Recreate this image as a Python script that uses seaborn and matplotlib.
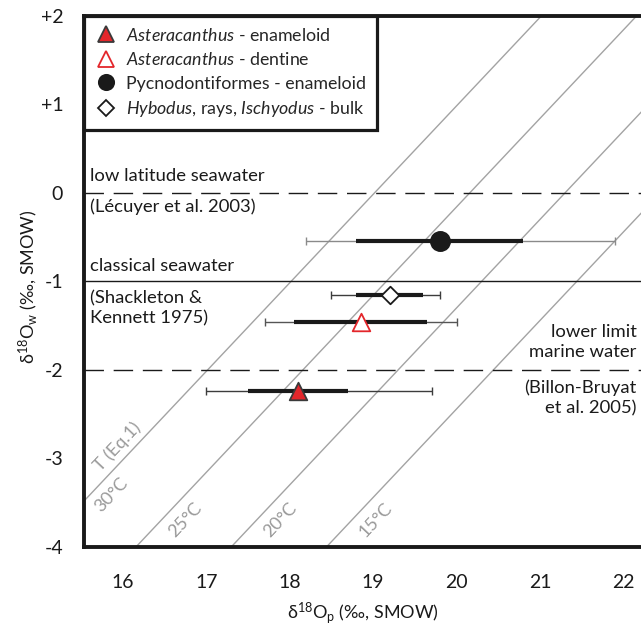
import matplotlib
matplotlib.use("Agg")
import matplotlib.pyplot as plt
import seaborn as sns
from matplotlib.lines import Line2D

# sample groups (legend order)
labels = [
    r"$\it{Asteracanthus}$ - enameloid",
    r"$\it{Asteracanthus}$ - dentine",
    "Pycnodontiformes - enameloid",
    r"$\it{Hybodus}$, rays, $\it{Ischyodus}$ - bulk",
]
mean_p = [18.10, 18.85, 19.80, 19.20]
mean_w = [-2.24, -1.46, -0.55, -1.16]
sd_lo = [17.50, 18.05, 18.80, 18.80]
sd_hi = [18.70, 19.65, 20.80, 19.60]
min_p = [17.00, 17.70, 18.20, 18.50]
max_p = [19.70, 20.00, 21.90, 19.80]

# isotherms, T = 113.3 - 4.38 (d18Op - d18Ow)
temps = [30, 25, 20, 15]
eq_a, eq_b = 113.3, 4.38
temp_labels = ["30°C", "25°C", "20°C", "15°C"]
temp_label_x = [15.86, 16.75, 17.89, 19.03]
temp_label_y = [-3.42, -3.70, -3.70, -3.70]

# reference seawater levels
ref_levels = [0, -1, -2]
ref_styles = ["dashed", "solid", "dashed"]

xticks = [16, 17, 18, 19, 20, 21, 22]
yticks = [2, 1, 0, -1, -2, -3, -4]
ytick_labels = ["+2", "+1", "0", "-1", "-2", "-3", "-4"]

markers = ["^", "^", "o", "D"]
faces = ["#e3262b", "white", "#1a1a1a", "white"]
edges = ["#3a3a3a", "#e3262b", "#1a1a1a", "#1a1a1a"]
msizes = [160, 160, 190, 80]
range_cols = ["#3c3c3c", "#555555", "#8a8a8a", "#3c3c3c"]

sns.set_theme(style="white")
plt.rcParams["font.family"] = ["Lato", "DejaVu Sans"]
plt.rcParams["mathtext.fontset"] = "custom"
plt.rcParams["mathtext.rm"] = "Lato"
plt.rcParams["mathtext.it"] = "Lato:italic"

fig = plt.figure(figsize=(6.41, 6.33), dpi=100)
ax = fig.add_axes([0.131, 0.1363, 0.869, 0.8389])
ax.set_xlim(15.534, 22.21)
ax.set_ylim(-4, 2)

# isotherm lines
for t in temps:
    off = (eq_a - t) / eq_b
    ax.plot([-4 + off, 2 + off], [-4, 2], color="#a3a3a3", lw=1.0, zorder=1)

ang = 46.7
for lab, tx, ty in zip(temp_labels, temp_label_x, temp_label_y):
    ax.text(tx, ty, lab, rotation=ang, rotation_mode="anchor", ha="center",
            va="center", color="#9a9a9a", fontsize=13)
ax.text(15.94, -2.87, "T (Eq.1)", rotation=ang, rotation_mode="anchor",
        ha="center", va="center", color="#9a9a9a", fontsize=13)

for lvl, ls in zip(ref_levels, ref_styles):
    ax.axhline(lvl, color="#1a1a1a", lw=1.0,
               linestyle=(0, (14, 7)) if ls == "dashed" else "-", zorder=1)

txt = dict(fontsize=13.3, color="#1a1a1a", va="center")
ax.text(15.606, 0.19, "low latitude seawater", **txt)
ax.text(15.606, -0.16, "(Lécuyer et al. 2003)", **txt)
ax.text(15.606, -0.83, "classical seawater", **txt)
ax.text(15.606, -1.31, "(Shackleton &\nKennett 1975)", linespacing=1.3, **txt)
ax.text(22.157, -1.69, "lower limit\nmarine water", ha="right", linespacing=1.3, **txt)
ax.text(22.157, -2.32, "(Billon-Bruyat\net al. 2005)", ha="right", linespacing=1.3, **txt)

# ranges, standard deviations, means
for i in range(len(labels)):
    ax.errorbar(
        (min_p[i] + max_p[i]) / 2, mean_w[i],
        xerr=(max_p[i] - min_p[i]) / 2, fmt="none",
        ecolor=range_cols[i], elinewidth=1.0, capsize=3.2, capthick=1.0, zorder=2,
    )
    ax.plot([sd_lo[i], sd_hi[i]], [mean_w[i], mean_w[i]], color="#1a1a1a",
            lw=3, solid_capstyle="butt", zorder=3)
    sns.scatterplot(x=[mean_p[i]], y=[mean_w[i]], marker=markers[i],
                    s=msizes[i], color=faces[i], edgecolor=edges[i],
                    linewidth=1.3, ax=ax, zorder=5, legend=False)

handles = [
    Line2D([], [], ls="none", marker=markers[i], markersize=11 if i < 3 else 8.5,
           markerfacecolor=faces[i], markeredgecolor=edges[i], markeredgewidth=1.3)
    for i in range(len(labels))
]
leg = ax.legend(handles, labels, loc="upper left", bbox_to_anchor=(0, 1),
                borderaxespad=0, frameon=True, fancybox=False, fontsize=12.8,
                labelspacing=0.42, handletextpad=0.55, handlelength=1.2,
                borderpad=0.62, framealpha=1)
leg.get_frame().set_edgecolor("#1a1a1a")
leg.get_frame().set_linewidth(2.3)
leg.set_zorder(10)

for side in ["left", "bottom", "top"]:
    ax.spines[side].set_linewidth(2.8)
    ax.spines[side].set_color("#1a1a1a")
ax.spines["right"].set_visible(False)

ax.set_xticks(xticks)
ax.set_yticks(yticks)
ax.set_yticklabels(ytick_labels)
ax.tick_params(axis="both", direction="out", length=8, width=2.4,
               color="#1a1a1a", labelsize=14, labelcolor="#1a1a1a", pad=7)
ax.tick_params(axis="x", pad=12)
ax.set_xlabel(r"δ$^{18}$O$_{\rm p}$ (‰, SMOW)", fontsize=13, color="#1a1a1a", labelpad=6)
ax.set_ylabel(r"δ$^{18}$O$_{\rm w}$ (‰, SMOW)", fontsize=13, color="#1a1a1a",
              va="center")
ax.yaxis.set_label_coords(-0.1, 0.49)

fig.savefig("out.png", dpi=100)
